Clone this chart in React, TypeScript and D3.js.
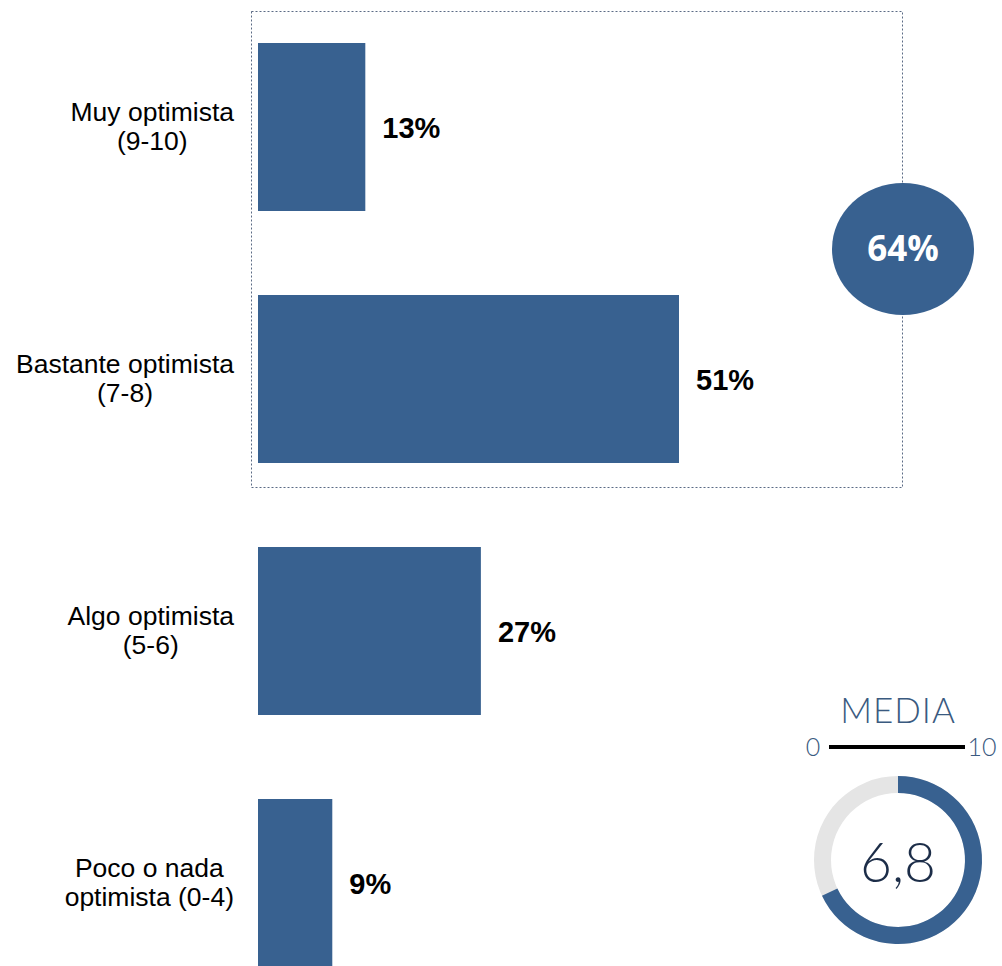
import React from "react";
import * as d3 from "d3";

const categories: string[][] = [
  ["Muy optimista", "(9-10)"],
  ["Bastante optimista", "(7-8)"],
  ["Algo optimista", "(5-6)"],
  ["Poco o nada", "optimista (0-4)"],
];
const values: number[] = [13, 51, 27, 9];
const groupTotal = "64%";
const mediaValue = 6.8;
const mediaMax = 10;
const mediaLabel = "6,8";

const W = 1002;
const H = 966;
const BLUE = "#386190";
const LABEL_FONT = "'Liberation Sans', Arial, sans-serif";

let ctx: CanvasRenderingContext2D | null = null;
function measure(t: string, font: string): number {
  if (!ctx) ctx = document.createElement("canvas").getContext("2d");
  if (!ctx) return t.length * 12;
  ctx.font = font;
  return ctx.measureText(t).width;
}

export default function App() {
  const x = d3.scaleLinear().domain([0, 51]).range([258, 679]);
  const y = d3
    .scaleBand<number>()
    .domain(values.map((_, i) => i))
    .range([1, 1009])
    .paddingInner(1 / 3)
    .paddingOuter(1 / 6);
  const bw = y.bandwidth();

  const gauge = d3.scaleLinear().domain([0, mediaMax]).range([0, 2 * Math.PI]);
  const cx = 898, cy = 860, rOut = 84, rIn = 67;
  const arcBg = d3.arc()({ innerRadius: rIn, outerRadius: rOut, startAngle: 0, endAngle: 2 * Math.PI }) || "";
  const arcFg = d3.arc()({ innerRadius: rIn, outerRadius: rOut, startAngle: 0, endAngle: gauge(mediaValue) }) || "";

  const labelFontSize = 26.5;
  const labelFont = `${labelFontSize}px ${LABEL_FONT}`;
  const rightEdge = 234;

  return (
    <svg width={W} height={H} style={{ position: "absolute", left: 0, top: 0, background: "#fff" }}>
      <rect x={251.5} y={11.5} width={651} height={476} fill="none" stroke="#5b6b85" strokeWidth={1} strokeDasharray="2,2" />
      {values.map((v, i) => {
        const y0 = y(i) as number;
        const mid = y0 + bw / 2;
        const lines = categories[i];
        const blockW = Math.max(...lines.map((l) => measure(l, labelFont)));
        const lcx = rightEdge - blockW / 2;
        return (
          <g key={i}>
            <rect x={x(0)} y={y0} width={x(v) - x(0)} height={bw} fill={BLUE} />
            <text x={x(v) + 17} y={mid + 11} fontFamily={LABEL_FONT} fontWeight="bold" fontSize={29} fill="#000">
              {v}%
            </text>
            {lines.map((l, j) => (
              <text key={j} x={lcx} y={mid - 6 + j * 29} textAnchor="middle" fontFamily={LABEL_FONT} fontSize={labelFontSize} fill="#000">
                {l}
              </text>
            ))}
          </g>
        );
      })}
      <ellipse cx={903} cy={249} rx={71} ry={66} fill={BLUE} />
      <text x={903} y={261} textAnchor="middle" fontFamily="'Open Sans', sans-serif" fontWeight="bold" fontSize={35} fill="#fff">
        {groupTotal}
      </text>
      <text x={898} y={723} textAnchor="middle" fontFamily="Lato, sans-serif" fontWeight={300} fontSize={35} letterSpacing={1} fill="#3a5a80">
        MEDIA
      </text>
      <line x1={829} x2={965} y1={747} y2={747} stroke="#000" strokeWidth={4} />
      <text x={813} y={756} textAnchor="middle" fontFamily="Lato, sans-serif" fontWeight={300} fontSize={25} fill="#3a5a80">0</text>
      <text x={982} y={756} textAnchor="middle" fontFamily="Lato, sans-serif" fontWeight={300} fontSize={25} fill="#3a5a80">10</text>
      <g transform={`translate(${cx},${cy})`}>
        <path d={arcBg} fill="#e5e5e5" />
        <path d={arcFg} fill={BLUE} />
      </g>
      <text x={cx} y={882} textAnchor="middle" fontFamily="Lato, sans-serif" fontWeight={300} fontSize={55} fill="#1c2d48">
        {mediaLabel}
      </text>
    </svg>
  );
}
